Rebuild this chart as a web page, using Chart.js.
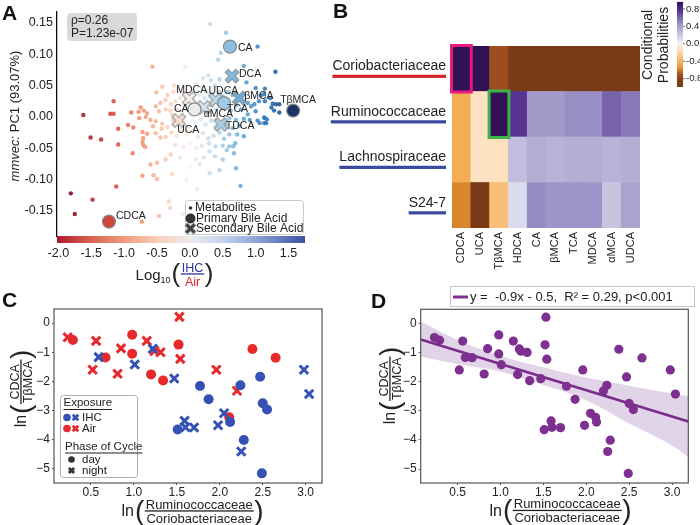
<!DOCTYPE html>
<html>
<head>
<meta charset="utf-8">
<script src="https://cdn.jsdelivr.net/npm/chart.js@4.4.0/dist/chart.umd.min.js"></script>
<style>
  body { margin: 0; width: 700px; height: 525px; position: relative; overflow: hidden; background: #fff;
         font-family: "Liberation Sans", Arial, sans-serif; }
  canvas { position: absolute; }
  .panel { position: absolute; font-weight: bold; font-size: 21px; line-height: 21px; color: #111; }
</style>
</head>
<body>
<canvas id="chartA" width="330" height="290" style="left:0;top:0"></canvas>
<canvas id="chartB" width="370" height="290" style="left:330px;top:0"></canvas>
<canvas id="chartC" width="350" height="235" style="left:0;top:290px"></canvas>
<canvas id="chartD" width="350" height="245" style="left:350px;top:280px"></canvas>
<div class="panel" style="left:2px;top:2px">A</div>
<div class="panel" style="left:333px;top:0">B</div>
<div class="panel" style="left:2px;top:289px">C</div>
<div class="panel" style="left:371px;top:290px">D</div>
<script>
// ---------- data ----------
// A: metabolites, x = log10(IHC/Air), y = mmvec PC1
const metabolites = [
  [-1.81, -0.122], [-1.75, -0.155], [-1.62, 0.003], [-1.51, -0.033], [-1.48, -0.132], [-1.35, -0.036],
  [-1.21, 0.005], [-1.16, 0.005], [-1.16, 0.025], [-1.12, -0.111], [-1.09, -0.019], [-1.09, -0.044],
  [-0.94, -0.013], [-0.89, 0.007], [-0.87, -0.058], [-0.86, -0.017], [-0.78, 0.008], [-0.77, -0.002],
  [-0.75, 0.015], [-0.73, -0.167], [-0.72, -0.040], [-0.72, -0.024], [-0.72, -0.094], [-0.71, -0.045],
  [-0.71, -0.034], [-0.70, 0.010], [-0.68, -0.048], [-0.67, 0.000], [-0.65, 0.006], [-0.65, -0.027],
  [-0.60, -0.005], [-0.60, -0.076], [-0.57, 0.080], [-0.56, -0.015], [-0.55, -0.093], [-0.52, -0.007],
  [-0.52, -0.026], [-0.52, 0.017], [-0.51, 0.039], [-0.50, -0.073], [-0.50, -0.099], [-0.47, -0.158],
  [-0.47, 0.009], [-0.45, -0.033], [-0.45, 0.022], [-0.43, -0.019], [-0.42, -0.011], [-0.42, 0.048],
  [-0.37, -0.032], [-0.37, -0.068], [-0.37, 0.012], [-0.37, 0.027], [-0.34, -0.016], [-0.34, 0.035],
  [-0.32, -0.135], [-0.30, -0.145], [-0.29, -0.060], [-0.29, 0.020], [-0.27, 0.004], [-0.27, -0.091],
  [-0.24, 0.050], [-0.11, -0.155], [-0.07, 0.079],
  [-0.25, 0.040], [-0.18, 0.045], [-0.10, 0.038], [-0.05, 0.050], [0.02, 0.044], [0.10, 0.052],
  [0.18, 0.047], [0.25, 0.040], [0.32, 0.058], [0.38, 0.050], [0.45, 0.060], [0.28, 0.066],
  [0.20, 0.062], [-0.22, 0.025], [-0.15, 0.030], [-0.08, 0.022], [0.00, 0.031], [0.06, 0.026],
  [0.14, 0.035], [0.22, 0.030], [0.30, 0.036], [0.44, 0.040], [0.50, 0.033], [0.58, 0.040],
  [0.65, 0.035], [-0.30, 0.010], [-0.20, 0.012], [-0.12, 0.006], [-0.04, 0.010], [0.03, 0.003],
  [0.12, 0.005], [0.28, 0.008], [0.34, 0.018], [0.40, 0.012], [0.55, 0.015], [0.62, 0.010],
  [0.70, 0.018], [0.78, 0.012], [-0.26, -0.005], [-0.10, -0.010], [-0.02, -0.015], [0.08, -0.008],
  [0.16, -0.004], [0.24, -0.012], [0.32, -0.006], [0.40, -0.016], [0.55, -0.012], [0.65, -0.018],
  [0.75, -0.014], [-0.28, -0.025], [-0.20, -0.030], [-0.12, -0.022], [-0.04, -0.028], [0.04, -0.024],
  [0.12, -0.032], [0.20, -0.026], [0.28, -0.034], [0.36, -0.030], [0.45, -0.025], [0.52, -0.035],
  [0.72, -0.028], [-0.22, -0.045], [-0.10, -0.048], [0.00, -0.042], [0.10, -0.050], [0.18, -0.046],
  [0.30, -0.055], [-0.15, -0.065], [0.00, -0.080], [0.15, -0.075], [-0.05, -0.100], [0.30, -0.090],
  [0.45, -0.085],
  [0.09, -0.068], [0.11, -0.115], [0.21, -0.065], [0.29, -0.042], [0.31, 0.148], [0.38, -0.063],
  [0.39, -0.047], [0.43, 0.091], [0.47, 0.102], [0.50, -0.046], [0.50, -0.068], [0.55, 0.134],
  [0.56, -0.053], [0.60, -0.002], [0.60, -0.028], [0.60, -0.047], [0.66, -0.047], [0.67, -0.058],
  [0.69, -0.042], [0.70, -0.005], [0.70, -0.082], [0.77, -0.110], [0.82, 0.081], [0.82, -0.003],
  [0.82, -0.031], [0.86, 0.055], [0.88, 0.022], [0.88, 0.004], [0.91, -0.005], [0.93, 0.017],
  [0.98, 0.020], [1.00, 0.046], [1.00, 0.009], [1.03, 0.112], [1.03, -0.006], [1.05, 0.025],
  [1.06, -0.010], [1.08, 0.034], [1.13, 0.036], [1.13, -0.001], [1.13, -0.010], [1.14, 0.045],
  [1.14, 0.025], [1.14, -0.002], [1.16, -0.010], [1.17, -0.004], [1.22, 0.030], [1.24, 0.015],
  [1.26, 0.021], [1.28, 0.010], [1.30, 0.072], [1.31, 0.020], [1.36, 0.007], [1.36, 0.020]
];
const primaryNames = ["CA", "CA", "TCA", "TβMCA", "CDCA"];
const primaryX = [0.61, 0.07, 0.52, 1.57, -1.23];
const primaryY = [0.112, 0.012, 0.022, 0.010, -0.167];
const secondaryNames = ["DCA", "MDCA", "UDCA", "αMCA", "βMCA", "TDCA", "UCA"];
const secondaryX = [0.64, -0.01, 0.39, 0.21, 0.75, 0.47, -0.17];
const secondaryY = [0.065, 0.029, 0.027, 0.015, 0.030, -0.012, -0.006];
const aTicksX = [-2.0, -1.5, -1.0, -0.5, 0.0, 0.5, 1.0, 1.5];
const aTicksY = [0.15, 0.10, 0.05, 0.00, -0.05, -0.10, -0.15];

// B: conditional probabilities
const bileAcids = ["CDCA", "UCA", "TβMCA", "HDCA", "CA", "βMCA", "TCA", "MDCA", "αMCA", "UDCA"];
const families = ["Coriobacteriaceae", "Ruminococcaceae", "Lachnospiraceae", "S24-7"];
const probCorio  = [0.97, 0.97, -0.72, -0.97, -0.97, -0.97, -0.97, -0.97, -0.97, -0.97];
const probRumino = [-0.45, -0.10, 0.97, 0.75, 0.42, 0.42, 0.47, 0.47, 0.62, 0.55];
const probLachno = [-0.45, -0.10, -0.12, 0.25, 0.32, 0.30, 0.32, 0.32, 0.30, 0.32];
const probS247   = [-0.58, -0.95, -0.32, 0.12, 0.48, 0.45, 0.45, 0.45, 0.22, 0.38];
const cbTicks = [0.8, 0.4, 0.0, -0.4, -0.8];

// C / D: ln(Rumino/Corio) vs ln(CDCA/TβMCA)
const ihcDay = [[1.77, -2.16], [1.87, -2.61], [1.51, -3.65], [2.12, -3.39], [2.24, -2.13],
  [2.28, -4.01], [2.47, -1.84], [2.50, -2.75], [2.55, -2.96], [2.49, -5.15]];
const ihcNight = [[0.59, -1.17], [1.01, -1.42], [1.22, -0.88], [1.47, -1.90], [1.59, -3.35],
  [1.60, -3.57], [1.70, -3.58], [1.98, -3.50], [2.05, -3.09], [2.25, -4.40], [2.98, -1.60], [3.04, -2.43]];
const airDay = [[0.29, -0.58], [0.67, -1.18], [0.98, -0.40], [0.98, -1.05], [1.20, -1.76],
  [1.34, -1.97], [1.52, -0.74], [2.38, -0.89], [2.65, -1.19], [2.11, -3.23]];
const airNight = [[0.23, -0.49], [0.56, -0.61], [0.52, -1.60], [0.85, -0.87], [0.81, -1.74],
  [1.15, -0.61], [1.24, -0.96], [1.31, -1.00], [1.53, 0.21], [1.54, -1.23], [1.96, -1.60], [2.20, -2.32]];
const fitX = [0.07, 3.19];
const fitY = [-0.56, -3.37];
const bandX = [0.07, 0.5, 1.0, 1.5, 2.0, 2.5, 3.0, 3.19];
const bandUpper = [0.06, -0.57, -1.11, -1.51, -1.86, -2.14, -2.41, -2.50];
const bandLower = [-1.15, -1.40, -1.66, -2.12, -2.64, -3.44, -4.19, -4.59];
const cdTicksX = [0.5, 1.0, 1.5, 2.0, 2.5, 3.0];
const cdTicksY = [0, -1, -2, -3, -4, -5];

// ---------- helpers ----------
Chart.defaults.font.family = '"Liberation Sans", Arial, sans-serif';
Chart.defaults.color = '#222';
const FONT = '"Liberation Sans", Arial, sans-serif';

const dotStops = [[-2.0, '#6b0a1c'], [-1.6, '#a51b26'], [-1.2, '#d5473c'], [-0.8, '#ef8a66'],
  [-0.4, '#fbc7ad'], [0, '#f5f2f0'], [0.4, '#b9d8ec'], [0.8, '#62a6d4'], [1.2, '#2872b8'], [1.6, '#1b2f5e']];
const cbarAStops = [[-2.02, '#b2182b'], [-1.5, '#d9634f'], [-1.0, '#f09b7e'], [-0.5, '#f8cdb8'],
  [0, '#ececec'], [0.5, '#c3d2ec'], [1.0, '#8fa6da'], [1.75, '#3b50a3']];
const heatStops = [[-1, '#7a3a17'], [-0.85, '#7e3c19'], [-0.7, '#a3511f'], [-0.55, '#e6942f'],
  [-0.45, '#f4ac55'], [-0.3, '#fbc27c'], [-0.1, '#fde3c3'], [0, '#f5f4f2'], [0.12, '#dadbec'],
  [0.3, '#b7b2d7'], [0.45, '#9d95c7'], [0.6, '#7c69ae'], [0.75, '#583594'], [0.9, '#3a1a6a'], [1, '#2c0e4c']];

function hexRgb(h) { return [1, 3, 5].map(i => parseInt(h.slice(i, i + 2), 16)); }
function mapColor(stops, v, alpha = 1) {
  let a = stops[0], b = stops[0];
  for (let i = 1; i < stops.length; i++) {
    b = stops[i];
    if (v <= b[0]) { a = stops[i - 1]; break; }
    a = b;
  }
  const t = b[0] === a[0] ? 0 : Math.min(1, Math.max(0, (v - a[0]) / (b[0] - a[0])));
  const ca = hexRgb(a[1]), cb = hexRgb(b[1]);
  const c = ca.map((k, i) => Math.round(k + (cb[i] - k) * t));
  return `rgba(${c[0]},${c[1]},${c[2]},${alpha})`;
}

const markerCache = {};
function crossMarker(fill, size) {
  const key = fill + size;
  if (markerCache[key]) return markerCache[key];
  const c = document.createElement('canvas');
  c.width = c.height = size;
  const g = c.getContext('2d');
  const m = size * 0.27, e = size - m, w = size * 0.34;
  const path = () => { g.beginPath(); g.moveTo(m, m); g.lineTo(e, e); g.moveTo(e, m); g.lineTo(m, e); g.stroke(); };
  g.lineCap = 'square';
  g.strokeStyle = '#8a8a8a'; g.lineWidth = w; path();
  g.strokeStyle = fill; g.lineWidth = w - 2; path();
  markerCache[key] = c;
  return c;
}

function fixTicks(values) { return s => { s.ticks = values.map(v => ({ value: v })); }; }

// fraction style axis title, e.g. ln( num / den )
function fracTitle(ctx, cx, cy, rot, o) {
  ctx.save();
  ctx.translate(cx, cy);
  if (rot) ctx.rotate(-Math.PI / 2);
  ctx.textAlign = 'left';
  ctx.textBaseline = 'alphabetic';
  ctx.font = o.preFont; const wPre = ctx.measureText(o.pre).width;
  let wSub = 0;
  if (o.sub) { ctx.font = o.subFont; wSub = ctx.measureText(o.sub).width; }
  ctx.font = o.parFont; const wPar = ctx.measureText('(').width;
  ctx.font = o.fracFont;
  const wF = Math.max(ctx.measureText(o.num).width, ctx.measureText(o.den).width) + 2;
  let xx = -(wPre + wSub + 2 * wPar + wF + 3) / 2;
  ctx.fillStyle = '#222';
  ctx.font = o.preFont; ctx.fillText(o.pre, xx, o.preBase); xx += wPre;
  if (o.sub) { ctx.font = o.subFont; ctx.fillText(o.sub, xx, o.subBase); xx += wSub; }
  xx += 1;
  ctx.font = o.parFont; ctx.textBaseline = 'middle'; ctx.fillText('(', xx, o.parMid); xx += wPar + 0.5;
  ctx.font = o.fracFont; ctx.textAlign = 'center'; ctx.textBaseline = 'alphabetic';
  ctx.fillStyle = o.numColor || '#222'; ctx.fillText(o.num, xx + wF / 2, -2.5);
  ctx.fillStyle = o.denColor || '#222'; ctx.fillText(o.den, xx + wF / 2, o.denBase || 11.5);
  ctx.fillStyle = o.barColor || '#222'; ctx.fillRect(xx, -0.7, wF, 1.3);
  xx += wF + 0.5;
  ctx.textAlign = 'left'; ctx.fillStyle = '#222'; ctx.font = o.parFont; ctx.textBaseline = 'middle';
  ctx.fillText(')', xx, o.parMid);
  ctx.restore();
}

// label placement for panel A (dx, dy, align)
const primaryLabelPos = [[8, 1, 'left'], [-6, 0, 'right'], [3, 6, 'left'], [-13, -10, 'left'], [7, -5, 'left']];
const secondaryLabelPos = [[7, -1.5, 'left'], [-13, -9, 'left'], [-7, -9, 'left'], [0, 7, 'left'],
  [5, -2, 'left'], [5, 1.5, 'left'], [-1.5, 9.5, 'left']];

// ---------- panel A ----------
const annotA = {
  id: 'annotA',
  afterDatasetsDraw(chart) {
    const { ctx, scales: { x, y } } = chart;
    ctx.save();
    ctx.font = '10.5px ' + FONT; ctx.fillStyle = '#222'; ctx.textBaseline = 'middle';
    const label = (names, xs, ys, pos) => names.forEach((n, i) => {
      ctx.textAlign = pos[i][2];
      ctx.fillText(n, x.getPixelForValue(xs[i]) + pos[i][0], y.getPixelForValue(ys[i]) + pos[i][1]);
    });
    label(primaryNames, primaryX, primaryY, primaryLabelPos);
    label(secondaryNames, secondaryX, secondaryY, secondaryLabelPos);

    // stats box
    ctx.fillStyle = '#d9d9d9';
    ctx.beginPath(); ctx.roundRect(67, 13, 70, 28, 4); ctx.fill();
    ctx.fillStyle = '#222'; ctx.textAlign = 'left'; ctx.font = '12px ' + FONT;
    ctx.fillText('ρ=0.26', 71, 21); ctx.fillText('P=1.23e-07', 71, 34);

    // legend
    ctx.fillStyle = 'rgba(255,255,255,0.9)'; ctx.strokeStyle = '#c8c8c8'; ctx.lineWidth = 1;
    ctx.beginPath(); ctx.roundRect(185.5, 200.5, 118, 34, 3); ctx.fill(); ctx.stroke();
    ctx.fillStyle = '#333';
    ctx.beginPath(); ctx.arc(190.5, 208, 1.8, 0, Math.PI * 2); ctx.fill();
    ctx.beginPath(); ctx.arc(190.5, 218.5, 5, 0, Math.PI * 2); ctx.fill();
    ctx.drawImage(crossMarker('#3a3a3a', 13), 184, 222);
    ctx.fillStyle = '#222'; ctx.font = '12px ' + FONT;
    ctx.fillText('Metabolites', 195, 208);
    ctx.fillText('Primary Bile Acid', 196, 218.5);
    ctx.fillText('Secondary Bile Acid', 196, 229);
    ctx.restore();
  },
  afterDraw(chart) {
    const { ctx, chartArea: a, scales: { x } } = chart;
    ctx.save();
    const grad = ctx.createLinearGradient(a.left, 0, a.right, 0);
    cbarAStops.forEach(s => {
      const f = (x.getPixelForValue(s[0]) - a.left) / (a.right - a.left);
      grad.addColorStop(Math.min(1, Math.max(0, f)), s[1]);
    });
    ctx.fillStyle = grad;
    ctx.fillRect(a.left, a.bottom, a.right - a.left, 7);
    // y title
    ctx.translate(15, 116); ctx.rotate(-Math.PI / 2);
    ctx.textBaseline = 'middle'; ctx.fillStyle = '#222';
    ctx.font = 'italic 13px ' + FONT; const w1 = ctx.measureText('mmvec:').width;
    ctx.font = '13px ' + FONT; const w2 = ctx.measureText(' PC1 (93.07%)').width;
    ctx.font = 'italic 13px ' + FONT; ctx.fillText('mmvec:', -(w1 + w2) / 2, 0);
    ctx.font = '13px ' + FONT; ctx.fillText(' PC1 (93.07%)', -(w1 + w2) / 2 + w1, 0);
    ctx.restore();
    fracTitle(ctx, 175, 274, false, {
      pre: 'Log', preFont: '15px ' + FONT, preBase: 6, sub: '10', subFont: '9px ' + FONT, subBase: 9,
      parFont: '26px ' + FONT, parMid: 1, fracFont: '12.5px ' + FONT, num: 'IHC', den: 'Air',
      numColor: '#2b3a9c', denColor: '#e32626', barColor: '#2b3a9c'
    });
  }
};

new Chart(document.getElementById('chartA'), {
  type: 'scatter',
  data: {
    datasets: [
      {
        label: 'Primary Bile Acid', order: 0,
        data: primaryX.map((v, i) => ({ x: v, y: primaryY[i] })),
        pointRadius: 6.5, pointBackgroundColor: c => mapColor(dotStops, c.raw.x),
        pointBorderColor: '#8a8a8a', pointBorderWidth: 1.2
      },
      {
        label: 'Secondary Bile Acid', order: 1,
        data: secondaryX.map((v, i) => ({ x: v, y: secondaryY[i] })),
        pointStyle: c => crossMarker(mapColor(dotStops, c.raw.x), 16)
      },
      {
        label: 'Metabolites', order: 2,
        data: metabolites.map(([mx, my]) => ({ x: mx, y: my })),
        pointRadius: 2.2, pointBorderWidth: 0,
        pointBackgroundColor: c => mapColor(dotStops, c.raw.x, 0.9)
      }
    ]
  },
  options: {
    responsive: false, animation: false, events: [],
    layout: { padding: { left: 0, top: 4, right: 25, bottom: 0 } },
    plugins: { legend: { display: false }, tooltip: { enabled: false } },
    scales: {
      x: {
        type: 'linear', min: -2.02, max: 1.75,
        afterBuildTicks: fixTicks(aTicksX), afterFit: s => { s.height = 54; },
        grid: { display: false, drawTicks: false }, border: { display: false },
        ticks: { padding: 10, font: { size: 12.5 }, callback: v => v.toFixed(1) }
      },
      y: {
        min: -0.19, max: 0.168,
        afterBuildTicks: fixTicks(aTicksY), afterFit: s => { s.width = 57; },
        grid: { display: false, drawTicks: false }, border: { display: true, color: '#111', width: 1.3 },
        ticks: { padding: 4, font: { size: 12.5 }, callback: v => v.toFixed(2) }
      }
    }
  },
  plugins: [annotA]
});

// ---------- panel B ----------
const rowsBottomUp = [
  { name: families[3], values: probS247 },
  { name: families[2], values: probLachno },
  { name: families[1], values: probRumino },
  { name: families[0], values: probCorio }
];
const highlightCells = [
  { family: 'Coriobacteriaceae', acid: 'CDCA', color: '#e8197f' },
  { family: 'Ruminococcaceae', acid: 'TβMCA', color: '#3db34a' }
];

const annotB = {
  id: 'annotB',
  afterDatasetsDraw(chart) {
    const { ctx, chartArea: a, scales: { y } } = chart;
    ctx.save();
    highlightCells.forEach(h => {
      const row = rowsBottomUp.findIndex(r => r.name === h.family);
      const el = chart.getDatasetMeta(row).data[bileAcids.indexOf(h.acid)];
      const t = Math.min(el.y, el.base), b = Math.max(el.y, el.base);
      ctx.strokeStyle = h.color; ctx.lineWidth = 3;
      ctx.strokeRect(el.x - el.width / 2 - 0.5, t - 0.5, el.width + 1, b - t + 1);
    });
    ctx.font = '14px ' + FONT; ctx.textAlign = 'right'; ctx.textBaseline = 'middle';
    rowsBottomUp.forEach((r, i) => {
      const cy = y.getPixelForValue(i + 0.5);
      const w = ctx.measureText(r.name).width;
      ctx.fillStyle = '#222';
      ctx.fillText(r.name, a.left - 6, cy - 2.5);
      ctx.fillStyle = r.name === 'Coriobacteriaceae' ? '#d3262b' : '#3a4a9e';
      ctx.fillRect(a.left - 6 - w, cy + 6, w, 3.2);
    });
    // colour bar
    const cbY = v => 43.8 - 43.65 * v;
    const top = cbY(0.96), bot = cbY(-0.99), bx = 347, bw = 6;
    const grad = ctx.createLinearGradient(0, top, 0, bot);
    heatStops.forEach(s => {
      const f = (cbY(s[0]) - top) / (bot - top);
      grad.addColorStop(Math.min(1, Math.max(0, f)), s[1]);
    });
    ctx.fillStyle = grad; ctx.fillRect(bx, top, bw, bot - top);
    ctx.font = '9.5px ' + FONT; ctx.textAlign = 'left'; ctx.fillStyle = '#222';
    ctx.strokeStyle = '#444'; ctx.lineWidth = 0.8;
    cbTicks.forEach(v => {
      ctx.beginPath(); ctx.moveTo(bx + bw, cbY(v)); ctx.lineTo(bx + bw + 2, cbY(v)); ctx.stroke();
      ctx.fillText(v.toFixed(1), bx + bw + 3, cbY(v));
    });
    ctx.font = '14px ' + FONT; ctx.textAlign = 'center';
    [['Conditional', 318], ['Probabilities', 334]].forEach(([s, px]) => {
      ctx.save(); ctx.translate(px, 45); ctx.rotate(-Math.PI / 2); ctx.fillText(s, 0, 0); ctx.restore();
    });
    ctx.restore();
  }
};

new Chart(document.getElementById('chartB'), {
  type: 'bar',
  data: {
    labels: bileAcids,
    datasets: rowsBottomUp.map(r => ({
      label: r.name,
      data: bileAcids.map(() => 1),
      backgroundColor: r.values.map(v => mapColor(heatStops, v)),
      borderWidth: 0, categoryPercentage: 1, barPercentage: 1
    }))
  },
  options: {
    responsive: false, animation: false, events: [],
    layout: { padding: { left: 122, top: 46, right: 60, bottom: 0 } },
    plugins: { legend: { display: false }, tooltip: { enabled: false } },
    scales: {
      x: {
        stacked: true, afterFit: s => { s.height = 62; },
        grid: { display: false, drawTicks: false }, border: { display: false },
        ticks: { minRotation: 90, maxRotation: 90, autoSkip: false, padding: 4, font: { size: 11 } }
      },
      y: { stacked: true, display: false, min: 0, max: 4 }
    }
  },
  plugins: [annotB]
});

// ---------- panels C and D ----------
const toPts = arr => arr.map(([px, py]) => ({ x: px, y: py }));
const cdScales = (yWidth) => ({
  x: {
    type: 'linear', min: 0.07, max: 3.19,
    afterBuildTicks: fixTicks(cdTicksX), afterFit: s => { s.height = 42; },
    grid: { display: true, drawOnChartArea: false, drawTicks: true, tickLength: 2, color: '#555' },
    border: { display: false },
    ticks: { padding: 0, font: { size: 12 }, callback: v => v.toFixed(1) }
  },
  y: {
    min: -5.48, max: 0.48,
    afterBuildTicks: fixTicks(cdTicksY), afterFit: s => { s.width = yWidth; },
    grid: { display: true, drawOnChartArea: false, drawTicks: true, tickLength: 2, color: '#555' },
    border: { display: false },
    ticks: { padding: 2, font: { size: 12 }, callback: v => (v < 0 ? '\u2212' + (-v) : String(v)) }
  }
});
function frame(ctx, a) {
  ctx.save(); ctx.strokeStyle = '#555'; ctx.lineWidth = 1.2;
  ctx.strokeRect(a.left, a.top, a.right - a.left, a.bottom - a.top); ctx.restore();
}
const ratioTitles = (ctx, xc, xy, yc, yy) => {
  const common = { pre: 'ln', preFont: '16px ' + FONT, preBase: 5, parFont: '28px ' + FONT, parMid: 1,
    fracFont: '13px ' + FONT };
  fracTitle(ctx, xc, xy, false, { ...common, num: 'Ruminococcaceae', den: 'Coriobacteriaceae' });
  fracTitle(ctx, yc, yy, true, { ...common, fracFont: '12.5px ' + FONT, denBase: 11, num: 'CDCA', den: 'TβMCA' });
};
function xMark(ctx, cx, cy, r, color) {
  ctx.save(); ctx.strokeStyle = color; ctx.lineWidth = 2.8; ctx.beginPath();
  ctx.moveTo(cx - r, cy - r); ctx.lineTo(cx + r, cy + r); ctx.moveTo(cx + r, cy - r); ctx.lineTo(cx - r, cy + r);
  ctx.stroke(); ctx.restore();
}
function dot(ctx, cx, cy, r, color) {
  ctx.save(); ctx.fillStyle = color; ctx.beginPath(); ctx.arc(cx, cy, r, 0, Math.PI * 2); ctx.fill(); ctx.restore();
}

const BLUE = '#3651b5', RED = '#e8292b', PURPLE = '#7d3090';

const annotC = {
  id: 'annotC',
  afterDraw(chart) {
    const { ctx, chartArea: a } = chart;
    frame(ctx, a);
    ctx.save();
    ctx.fillStyle = 'rgba(255,255,255,0.95)'; ctx.strokeStyle = '#b0b0b0'; ctx.lineWidth = 1;
    ctx.beginPath(); ctx.roundRect(60.5, 105.5, 77, 82, 3); ctx.fill(); ctx.stroke();
    ctx.fillStyle = '#222'; ctx.font = '11.5px ' + FONT; ctx.textBaseline = 'middle'; ctx.textAlign = 'left';
    const under = (s, lx, cy) => {
      ctx.fillText(s, lx, cy);
      ctx.fillRect(lx, cy + 6, ctx.measureText(s).width, 1);
    };
    under('Exposure', 63.5, 113);
    dot(ctx, 67, 127.5, 3.8, BLUE); xMark(ctx, 75.5, 127.5, 2.8, BLUE); ctx.fillText('IHC', 82, 127.5);
    dot(ctx, 67, 138.5, 3.8, RED); xMark(ctx, 75.5, 138.5, 2.8, RED); ctx.fillText('Air', 82, 138.5);
    under('Phase of Cycle', 65, 156.5);
    dot(ctx, 71.5, 169.5, 3.3, '#333'); ctx.fillText('day', 82, 169.5);
    xMark(ctx, 71.5, 180.5, 2.6, '#333'); ctx.fillText('night', 82, 180.5);
    ctx.restore();
    ratioTitles(ctx, 193, 221, 21, 98);
  }
};

new Chart(document.getElementById('chartC'), {
  type: 'scatter',
  data: {
    datasets: [
      { label: 'IHC day', data: toPts(ihcDay), pointRadius: 5, pointBackgroundColor: BLUE, pointBorderWidth: 0 },
      { label: 'IHC night', data: toPts(ihcNight), pointStyle: 'crossRot', pointRadius: 6, pointBorderColor: BLUE, pointBorderWidth: 3 },
      { label: 'Air day', data: toPts(airDay), pointRadius: 5, pointBackgroundColor: RED, pointBorderWidth: 0 },
      { label: 'Air night', data: toPts(airNight), pointStyle: 'crossRot', pointRadius: 6, pointBorderColor: RED, pointBorderWidth: 3 }
    ]
  },
  options: {
    responsive: false, animation: false, events: [],
    layout: { padding: { left: 0, top: 19, right: 28, bottom: 0 } },
    plugins: { legend: { display: false }, tooltip: { enabled: false } },
    scales: cdScales(54)
  },
  plugins: [annotC]
});

const allPoints = [...ihcDay, ...ihcNight, ...airDay, ...airNight];
const annotD = {
  id: 'annotD',
  afterDraw(chart) {
    const { ctx, chartArea: a } = chart;
    frame(ctx, a);
    ctx.save();
    ctx.strokeStyle = '#c8c8c8'; ctx.lineWidth = 1;
    ctx.strokeRect(100.5, 6.5, 244, 20);
    ctx.strokeStyle = PURPLE; ctx.lineWidth = 3;
    ctx.beginPath(); ctx.moveTo(103, 17); ctx.lineTo(118, 17); ctx.stroke();
    ctx.fillStyle = '#222'; ctx.font = '13px ' + FONT; ctx.textBaseline = 'middle';
    ctx.fillText('y =  -0.9x - 0.5,  R² = 0.29, p<0.001', 120, 17);
    ctx.restore();
    ratioTitles(ctx, 211, 230.5, 40, 105);
  }
};

new Chart(document.getElementById('chartD'), {
  type: 'scatter',
  data: {
    datasets: [
      { label: 'samples', order: 0, data: toPts(allPoints), pointRadius: 4.6, pointBackgroundColor: PURPLE, pointBorderWidth: 0 },
      { label: 'fit', order: 1, data: fitX.map((v, i) => ({ x: v, y: fitY[i] })), showLine: true,
        borderColor: '#7a2b8c', borderWidth: 2.6, pointRadius: 0 },
      { label: 'ci upper', order: 2, data: bandX.map((v, i) => ({ x: v, y: bandUpper[i] })), showLine: true,
        borderWidth: 0, pointRadius: 0, tension: 0.4, fill: '+1', backgroundColor: 'rgba(125,60,150,0.22)' },
      { label: 'ci lower', order: 3, data: bandX.map((v, i) => ({ x: v, y: bandLower[i] })), showLine: true,
        borderWidth: 0, pointRadius: 0, tension: 0.4 }
    ]
  },
  options: {
    responsive: false, animation: false, events: [],
    layout: { padding: { left: 0, top: 29.3, right: 11.7, bottom: 0 } },
    plugins: { legend: { display: false }, tooltip: { enabled: false } },
    scales: cdScales(70.7)
  },
  plugins: [annotD]
});
</script>
</body>
</html>
